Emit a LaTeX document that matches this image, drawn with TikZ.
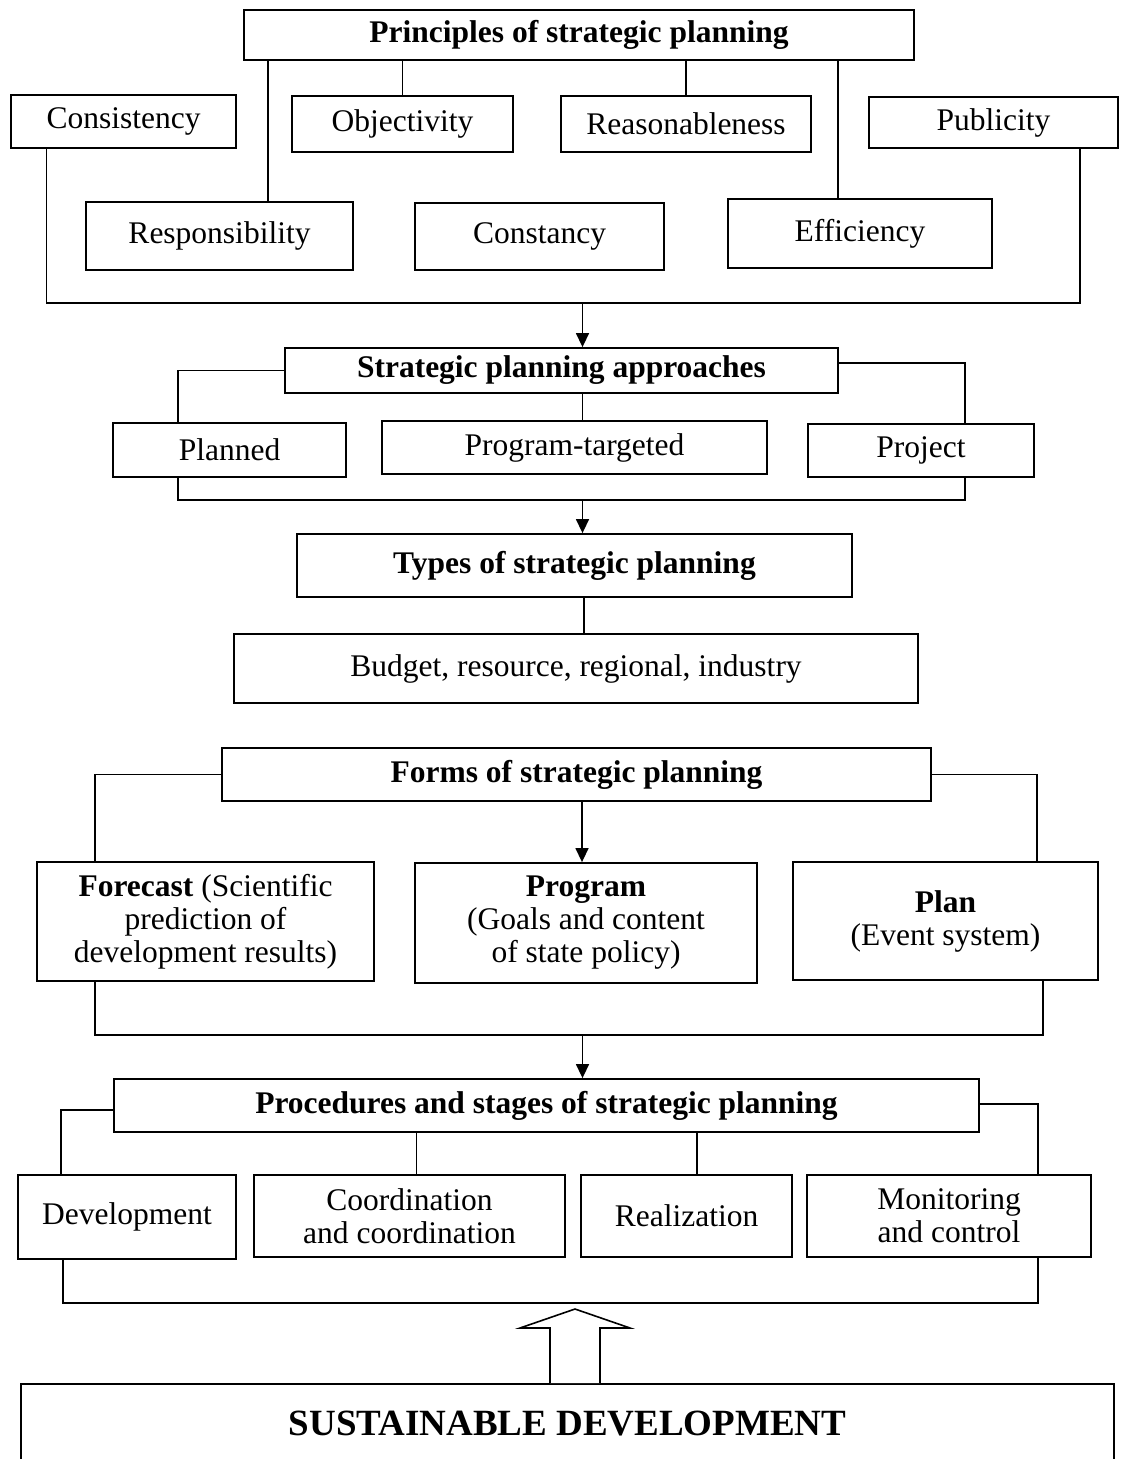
\documentclass[tikz,border=0pt]{standalone}
\usepackage{fontspec}
\setmainfont{Liberation Serif}
\usepackage{tikz}
\usetikzlibrary{arrows.meta}
\newcommand{\txtsize}{\fontsize{31.5}{33}\selectfont}
\newcommand{\bigsize}{\fontsize{37}{40}\selectfont}
\tikzset{
    common/.style={draw, rectangle, line width=1.8pt, inner sep=0pt, align=center, font=\txtsize},
    item/.style={common},
    head/.style={common, font=\txtsize\bfseries},
    sz/.style 2 args={minimum width=#1, minimum height=#2},
    link/.style={line width=1.4pt},
    arr/.style={link, -{Triangle[length=14pt, width=13pt]}}
}

\begin{document}
\begin{tikzpicture}[x=1pt, y=-1pt]
    \useasboundingbox (0,0) rectangle (1122,1459);
    \clip (0,0) rectangle (1122,1459);

    % principles
    \node[head, sz={670}{50}] (princ) at (579,35) {Principles of strategic planning};
    \node[item, sz={225}{53}] (cons) at (123.5,121.5) {Consistency};
    \node[item, sz={221}{56}] (obj) at (402.5,124) {Objectivity};
    \node[item, sz={250}{56}] (reas) at (686,124) {Reasonableness};
    \node[item, sz={249}{51}] (pub) at (993.5,122.5) {Publicity};
    \node[item, sz={267}{68}] (resp) at (219.5,236) {Responsibility};
    \node[item, sz={249}{67}] (const) at (539.5,236.5) {Constancy};
    \node[item, sz={264}{69}] (eff) at (860,233.5) {Efficiency};

    % approaches
    \node[head, sz={553}{45}] (appr) at (561.5,370.5) {Strategic planning approaches};
    \node[item, sz={233}{54}] (plan) at (229.5,450) {Planned};
    \node[item, sz={385}{53}] (prog) at (574.5,447.5) {Program-targeted};
    \node[item, sz={226}{53}] (proj) at (921,450.5) {Project};

    % types
    \node[head, sz={555}{63}] (types) at (574.5,565.5) {Types of strategic planning};
    \node[item, sz={684}{69}] (budget) at (576,668.5) {Budget, resource, regional, industry};

    % forms
    \node[head, sz={709}{53}] (forms) at (576.5,774.5) {Forms of strategic planning};
    \node[item, sz={337}{119}] (fore) at (205.5,921.5) {\textbf{Forecast} (Scientific\\prediction of\\development results)};
    \node[item, sz={342}{120}] (progr) at (586,923) {\textbf{Program}\\(Goals and content\\of state policy)};
    \node[item, sz={305}{118}] (pln) at (945.5,921) {\textbf{Plan}\\(Event system)};

    % procedures
    \node[head, sz={865}{53}] (proc) at (546.5,1105.5) {Procedures and stages of strategic planning};
    \node[item, sz={218}{84}] (dev) at (127,1217) {Development};
    \node[item, sz={311}{82}] (coord) at (409.5,1216) {Coordination\\and coordination};
    \node[item, sz={211}{82}] (real) at (686.5,1216) {Realization};
    \node[item, sz={284}{82}] (mon) at (949,1216) {Monitoring\\and control};

    \node[common, sz={1093}{80}, anchor=north, font=\bigsize\bfseries] (sust) at (567.5,1383) {SUSTAINABLE DEVELOPMENT};

    \coordinate (bus1) at (582.5,303);
    \coordinate (bus2) at (582.5,500);
    \coordinate (bus3) at (582.5,1035);

    \draw[link] (princ.south -| obj.north) -- (obj.north);
    \draw[link] (princ.south -| reas.north) -- (reas.north);
    \draw[link] ([xshift=48.5]resp.north) coordinate (r1) -- (r1 |- princ.south);
    \draw[link] ([xshift=-22]eff.north) coordinate (e1) -- (e1 |- princ.south);
    \draw[link] ([xshift=-77]cons.south) |- (bus1) -| ([xshift=86.5]pub.south);
    \draw[arr] (bus1) -- (bus1 |- appr.north);

    \draw[link] (appr.west) -| ([xshift=-51.5]plan.north);
    \draw[link] ([yshift=7.5]appr.east) -| ([xshift=44]proj.north);
    \draw[link] ([xshift=21]appr.south) coordinate (a1) -- (a1 |- prog.north);
    \draw[link] ([xshift=-51.5]plan.south) |- (bus2) -| ([xshift=44]proj.south);
    \draw[arr] (bus2) -- (bus2 |- types.north);

    \draw[link] ([xshift=9.5]types.south) coordinate (t1) -- (t1 |- budget.north);

    \draw[link] (forms.west) -| ([xshift=-110.5]fore.north);
    \draw[link] (forms.east) -| ([xshift=91.5]pln.north);
    \draw[arr] ([xshift=5.5]forms.south) coordinate (f1) -- (f1 |- progr.north);
    \draw[link] ([xshift=-110.5]fore.south) |- (bus3) -| ([xshift=97.5]pln.south);
    \draw[arr] (bus3) -- (bus3 |- proc.north);

    \draw[link] ([yshift=-4.5]proc.west) -| ([xshift=-66]dev.north);
    \draw[link] ([yshift=1.5]proc.east) -| ([xshift=89]mon.north);
    \draw[link] ([xshift=7]coord.north) coordinate (c1) -- (c1 |- proc.south);
    \draw[link] ([xshift=10.5]real.north) coordinate (c2) -- (c2 |- proc.south);
    \draw[link] ([xshift=-64]dev.south) -- ++(0,43) -| ([xshift=89]mon.south);

    \draw[line width=1.6pt, fill=white] (550,1383) -- (550,1328) -- (520,1328) -- (575,1309)
        -- (630,1328) -- (600,1328) -- (600,1383);
\end{tikzpicture}
\end{document}
